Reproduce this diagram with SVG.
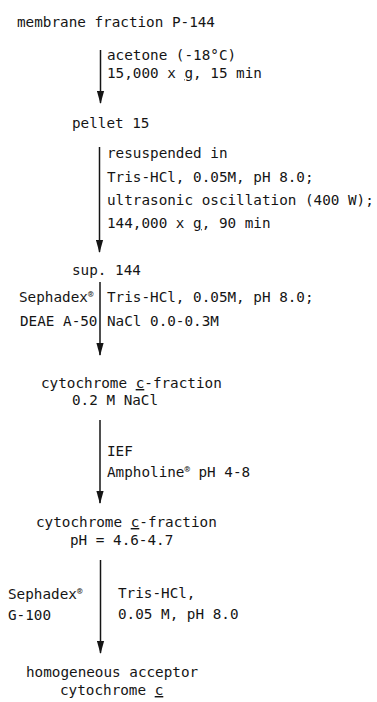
<svg xmlns="http://www.w3.org/2000/svg" width="377" height="702" viewBox="0 0 377 702">
<style>
text{font-family:"DejaVu Sans Mono","Liberation Mono",monospace;font-size:14.3px;fill:#151515}
.sup{font-size:9px}
.u{text-decoration:underline}
.arr{stroke:#151515;stroke-width:1.5;fill:none;marker-end:url(#ah)}
</style>
<defs>
<marker id="ah" viewBox="0 -4 13 8" refX="12" refY="0" markerWidth="13" markerHeight="8" markerUnits="userSpaceOnUse" orient="auto">
<path d="M0,-3.6 L13,0 L0,3.6 z" fill="#151515"/>
</marker>
</defs>
<g id="connectors">
<line class="arr" x1="100.5" y1="50" x2="100.5" y2="103"/>
<line class="arr" x1="99.5" y1="147" x2="99.5" y2="252"/>
<line class="arr" x1="100" y1="282" x2="100" y2="355"/>
<line class="arr" x1="100" y1="420" x2="100" y2="503"/>
<line class="arr" x1="100.5" y1="560" x2="100.5" y2="653"/>
</g>
<g id="n-membrane"><text x="17" y="27">membrane fraction P-144</text></g>
<g id="l-acetone">
<text x="107" y="60">acetone (-18°C)</text>
<text x="107" y="78">15,000 x <tspan class="u">g</tspan>, 15 min</text>
</g>
<g id="n-pellet"><text x="72" y="128">pellet 15</text></g>
<g id="l-resuspend">
<text x="107" y="158">resuspended in</text>
<text x="107" y="182">Tris-HCl, 0.05M, pH 8.0;</text>
<text x="107" y="205">ultrasonic oscillation (400 W);</text>
<text x="107" y="228">144,000 x <tspan class="u">g</tspan>, 90 min</text>
</g>
<g id="n-sup"><text x="72" y="275">sup. 144</text></g>
<g id="l-deae">
<text x="19" y="302">Sephadex<tspan class="sup" dy="-5">®</tspan></text>
<text x="20" y="326">DEAE A-50</text>
<text x="107" y="302">Tris-HCl, 0.05M, pH 8.0;</text>
<text x="107" y="326">NaCl 0.0-0.3M</text>
</g>
<g id="n-cyt1">
<text x="41" y="388">cytochrome <tspan class="u">c</tspan>-fraction</text>
<text x="72" y="405">0.2 M NaCl</text>
</g>
<g id="l-ief">
<text x="107" y="456">IEF</text>
<text x="107" y="477">Ampholine<tspan class="sup" dy="-5">®</tspan><tspan dy="5"> pH 4-8</tspan></text>
</g>
<g id="n-cyt2">
<text x="36" y="527">cytochrome <tspan class="u">c</tspan>-fraction</text>
<text x="70" y="545">pH = 4.6-4.7</text>
</g>
<g id="l-g100">
<text x="8" y="599">Sephadex<tspan class="sup" dy="-5">®</tspan></text>
<text x="8" y="620">G-100</text>
<text x="118" y="598">Tris-HCl,</text>
<text x="118" y="619">0.05 M, pH 8.0</text>
</g>
<g id="n-final">
<text x="26" y="677">homogeneous acceptor</text>
<text x="60" y="695">cytochrome <tspan class="u">c</tspan></text>
</g>
</svg>
